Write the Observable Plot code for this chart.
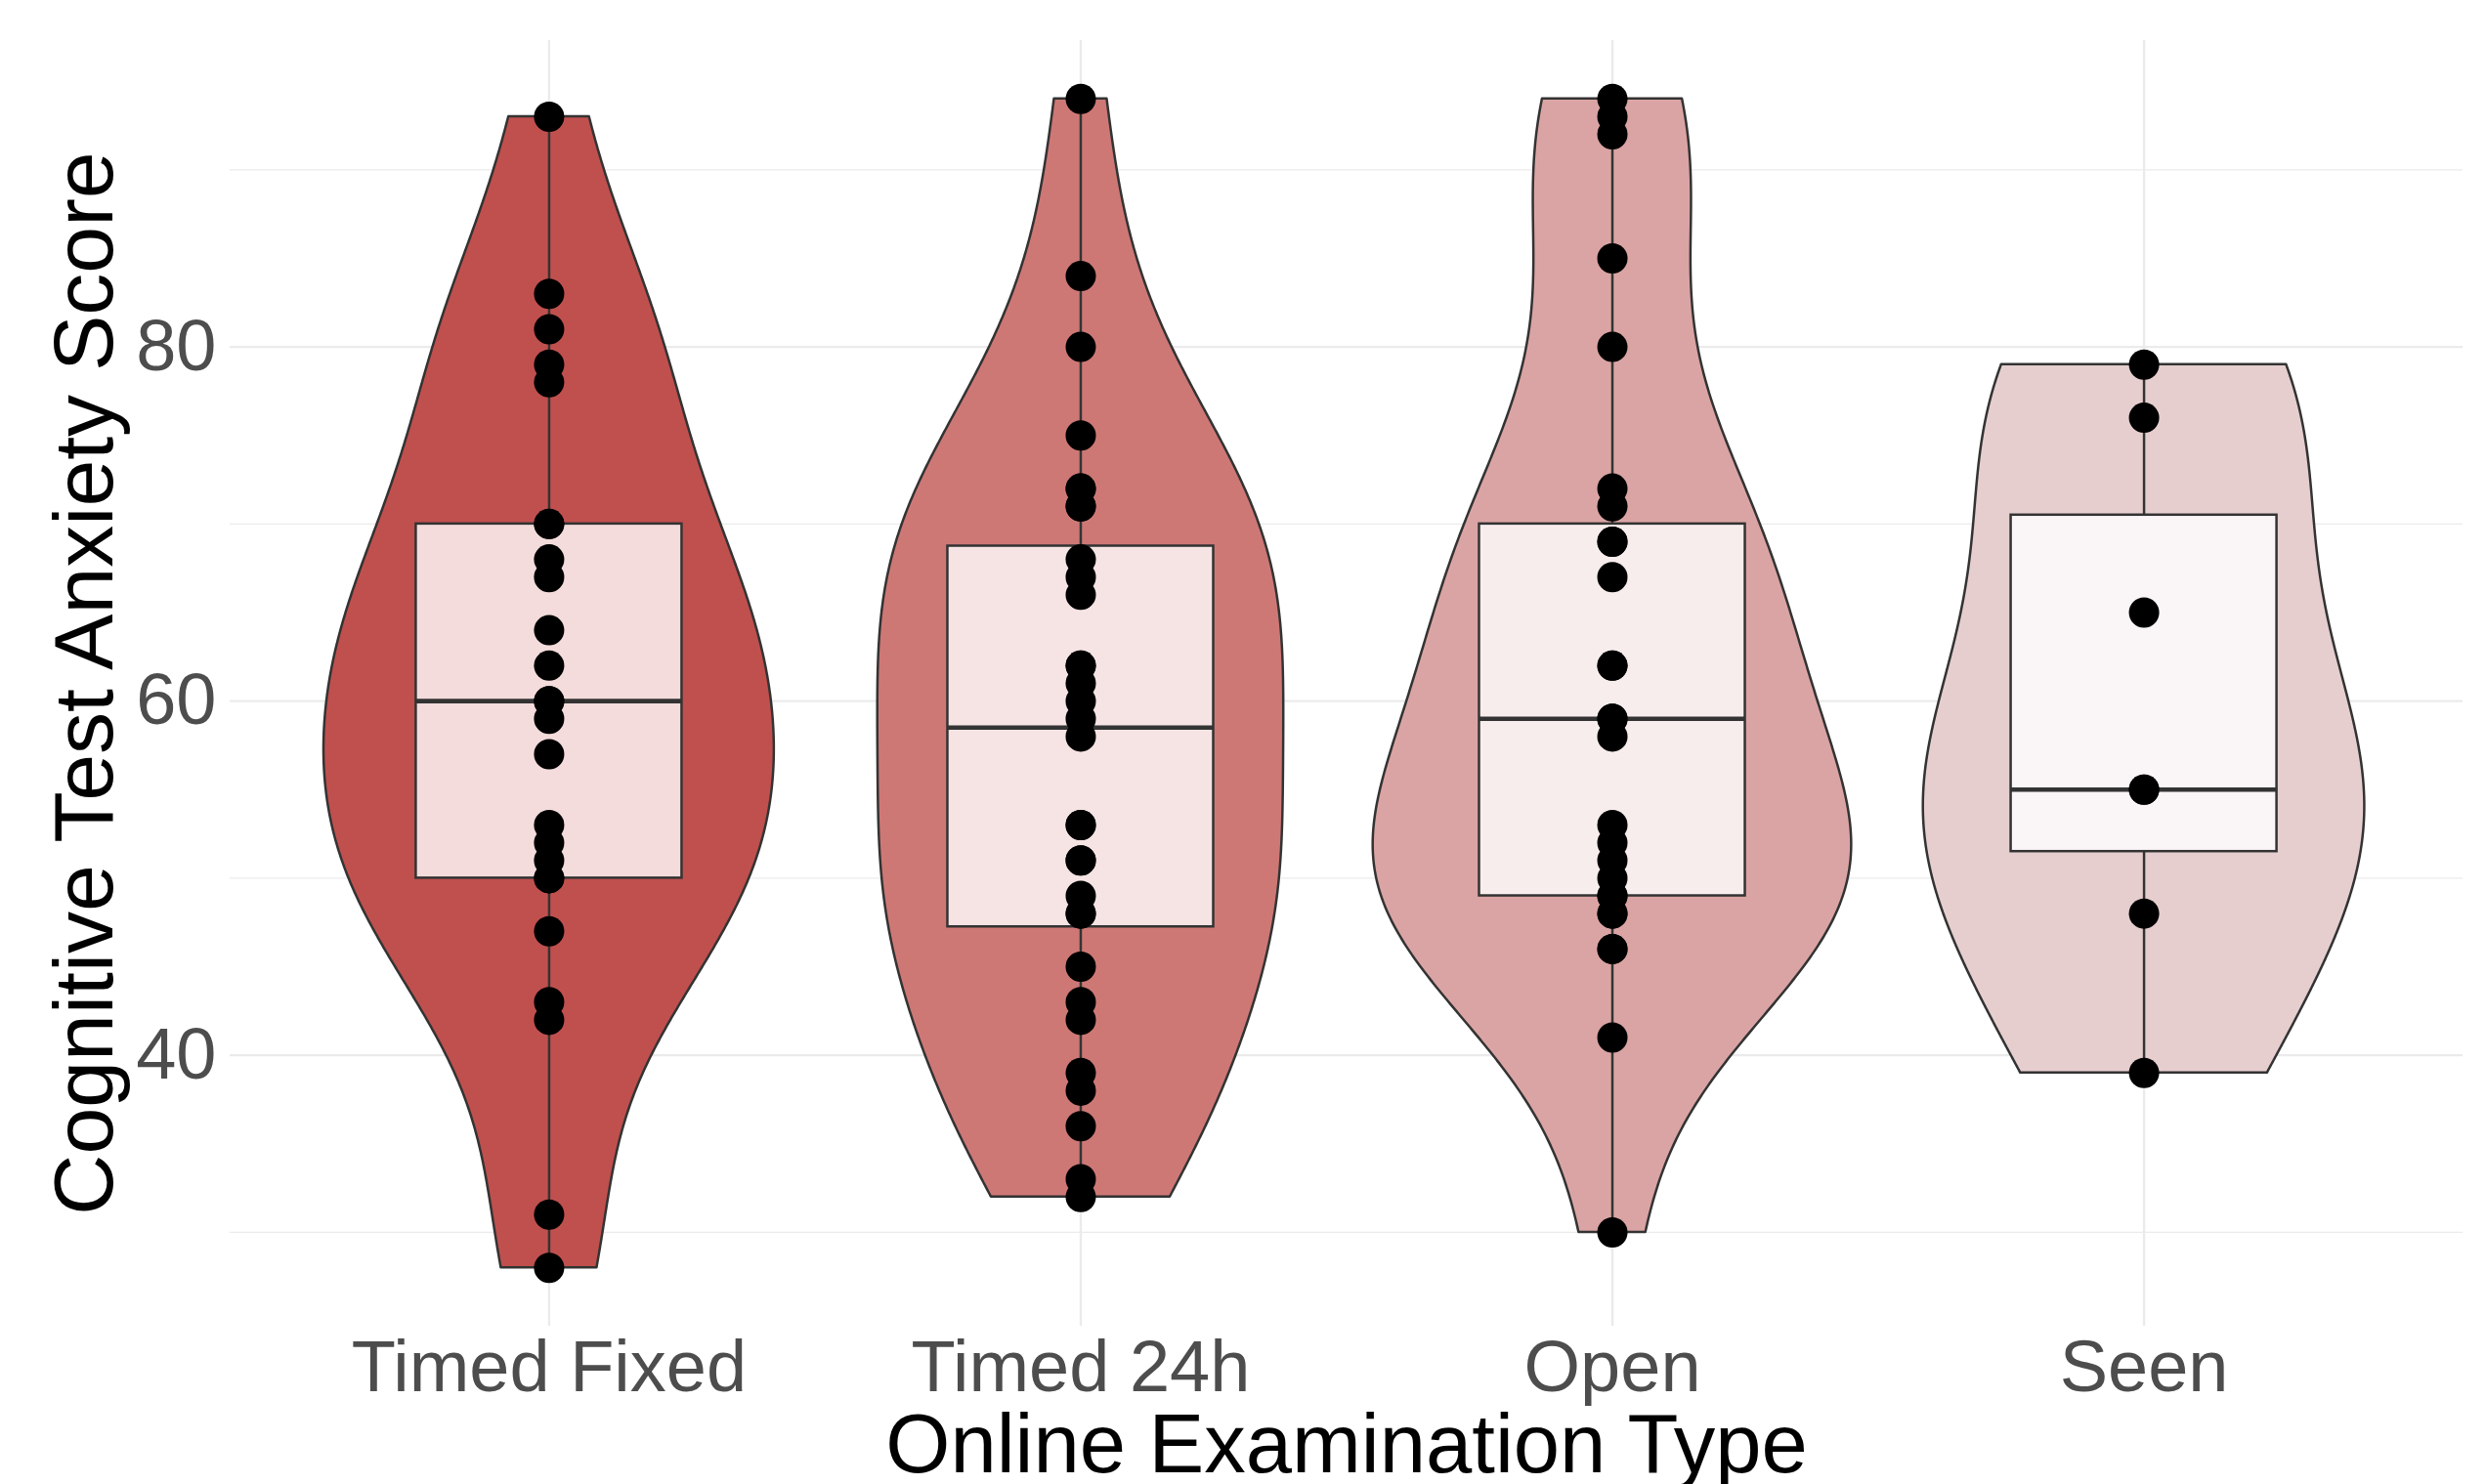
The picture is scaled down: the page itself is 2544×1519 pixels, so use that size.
<!DOCTYPE html>
<html>
<head>
<meta charset="utf-8">
<script src="https://cdn.jsdelivr.net/npm/d3@7"></script>
<script src="https://cdn.jsdelivr.net/npm/@observablehq/plot@0.6"></script>
<style>
  html, body { margin: 0; padding: 0; background: #ffffff; }
  #chart svg { display: block; }
</style>
</head>
<body>
<div id="chart"></div>
<script>
// ---- Data ----
const categories = ["Timed Fixed", "Timed 24h", "Open", "Seen"];
const timedFixed = [28, 31, 42, 43, 47, 50, 50, 51, 52, 53, 57, 59, 60, 60, 62, 64, 67, 68, 70, 70, 78, 79, 81, 83, 93];
const timed24h = [32, 33, 36, 38, 39, 42, 43, 45, 48, 48, 49, 51, 51, 53, 53, 58, 59, 60, 61, 62, 62, 66, 67, 68, 71, 71, 72, 72, 75, 80, 84, 94];
const openExam = [30, 41, 46, 46, 48, 48, 49, 49, 50, 51, 52, 53, 58, 59, 59, 62, 62, 67, 69, 69, 71, 72, 80, 85, 92, 93, 94];
const seen = [39, 48, 55, 55, 65, 76, 79];
const violinFills = ["#C0504E", "#CE7876", "#DBA4A4", "#E6CECF"];
const yTicks = [40, 60, 80];
const yMinor = [30, 50, 70, 90];
const xTitle = "Online Examination Type";
const yTitle = "Cognitive Test Anxiety Score";

// ---- Derived tables ----
const groups = [timedFixed, timed24h, openExam, seen];

function bwNrd0(v) {
  const s = d3.deviation(v);
  const sorted = v.slice().sort(d3.ascending);
  const iqr = d3.quantileSorted(sorted, 0.75) - d3.quantileSorted(sorted, 0.25);
  let lo = Math.min(s, iqr / 1.34);
  if (!lo) lo = s || Math.abs(sorted[0]) || 1;
  return 0.9 * lo * Math.pow(v.length, -0.2);
}
function kde(v, h, ys) {
  const c = 1 / (v.length * h * Math.sqrt(2 * Math.PI));
  return ys.map(y => c * d3.sum(v, x => Math.exp(-0.5 * ((y - x) / h) ** 2)));
}

const dens = groups.map(v => {
  const [lo, hi] = d3.extent(v);
  const ys = d3.range(512).map(i => lo + (hi - lo) * i / 511);
  return {ys, d: kde(v, bwNrd0(v), ys)};
});
const globalMax = d3.max(dens, g => d3.max(g.d));

const violin = [];
dens.forEach((g, gi) => {
  g.ys.forEach((y, i) => {
    const w = 0.45 * g.d[i] / globalMax;
    violin.push({cat: categories[gi], idx: gi + 1, y, x1: gi + 1 - w, x2: gi + 1 + w});
  });
});

const stats = groups.map((v, gi) => {
  const s = v.slice().sort(d3.ascending);
  return {
    cat: categories[gi], idx: gi + 1,
    min: s[0], max: s[s.length - 1],
    q1: d3.quantileSorted(s, 0.25), median: d3.quantileSorted(s, 0.5), q3: d3.quantileSorted(s, 0.75)
  };
});

const points = [];
groups.forEach((v, gi) => v.forEach(value => points.push({cat: categories[gi], idx: gi + 1, value})));

const allVals = groups.flat();
const [dMin, dMax] = d3.extent(allVals);
const pad = (dMax - dMin) * 0.05;

const outline = "#333333";

const chart = Plot.plot({
  width: 2544,
  height: 1519,
  marginLeft: 235,
  marginRight: 24,
  marginTop: 41,
  marginBottom: 162,
  style: {fontFamily: "'Liberation Sans', Arial, Helvetica, sans-serif", background: "#ffffff"},
  x: {type: "linear", domain: [0.4, 4.6], axis: null},
  y: {domain: [dMin - pad, dMax + pad], axis: null},
  color: {domain: categories, range: violinFills},
  marks: [
    Plot.ruleY(yMinor, {stroke: "#EBEBEB", strokeWidth: 1.3}),
    Plot.ruleY(yTicks, {stroke: "#EBEBEB", strokeWidth: 2.4}),
    Plot.ruleX([1, 2, 3, 4], {stroke: "#EBEBEB", strokeWidth: 2.4}),
    Plot.areaX(violin, {y: "y", x1: "x1", x2: "x2", fill: "cat", z: "cat", stroke: outline, strokeWidth: 2.5}),
    Plot.ruleX(stats, {x: "idx", y1: "min", y2: "q1", stroke: outline, strokeWidth: 2.5}),
    Plot.ruleX(stats, {x: "idx", y1: "q3", y2: "max", stroke: outline, strokeWidth: 2.5}),
    Plot.rect(stats, {x1: d => d.idx - 0.25, x2: d => d.idx + 0.25, y1: "q1", y2: "q3", fill: "white", fillOpacity: 0.8, stroke: outline, strokeWidth: 2.5}),
    Plot.ruleY(stats, {y: "median", x1: d => d.idx - 0.25, x2: d => d.idx + 0.25, stroke: outline, strokeWidth: 4.6}),
    Plot.dot(points, {x: "idx", y: "value", r: 15.5, fill: "black"}),
    Plot.axisY(yTicks, {tickSize: 0, tickPadding: 14, fontSize: 74, fill: "#4D4D4D", label: null}),
    Plot.axisX([1, 2, 3, 4], {tickSize: 0, tickPadding: 14, fontSize: 74, fill: "#4D4D4D", label: null, tickFormat: d => categories[d - 1]}),
    Plot.text([xTitle], {text: d => d, frameAnchor: "bottom", dy: 122, fontSize: 85, fill: "black", lineAnchor: "middle"}),
    Plot.text([yTitle], {text: d => d, frameAnchor: "left", rotate: -90, dx: -148, fontSize: 86, fill: "black", lineAnchor: "middle", textAnchor: "middle"})
  ]
});

document.getElementById("chart").appendChild(chart);
</script>
</body>
</html>
